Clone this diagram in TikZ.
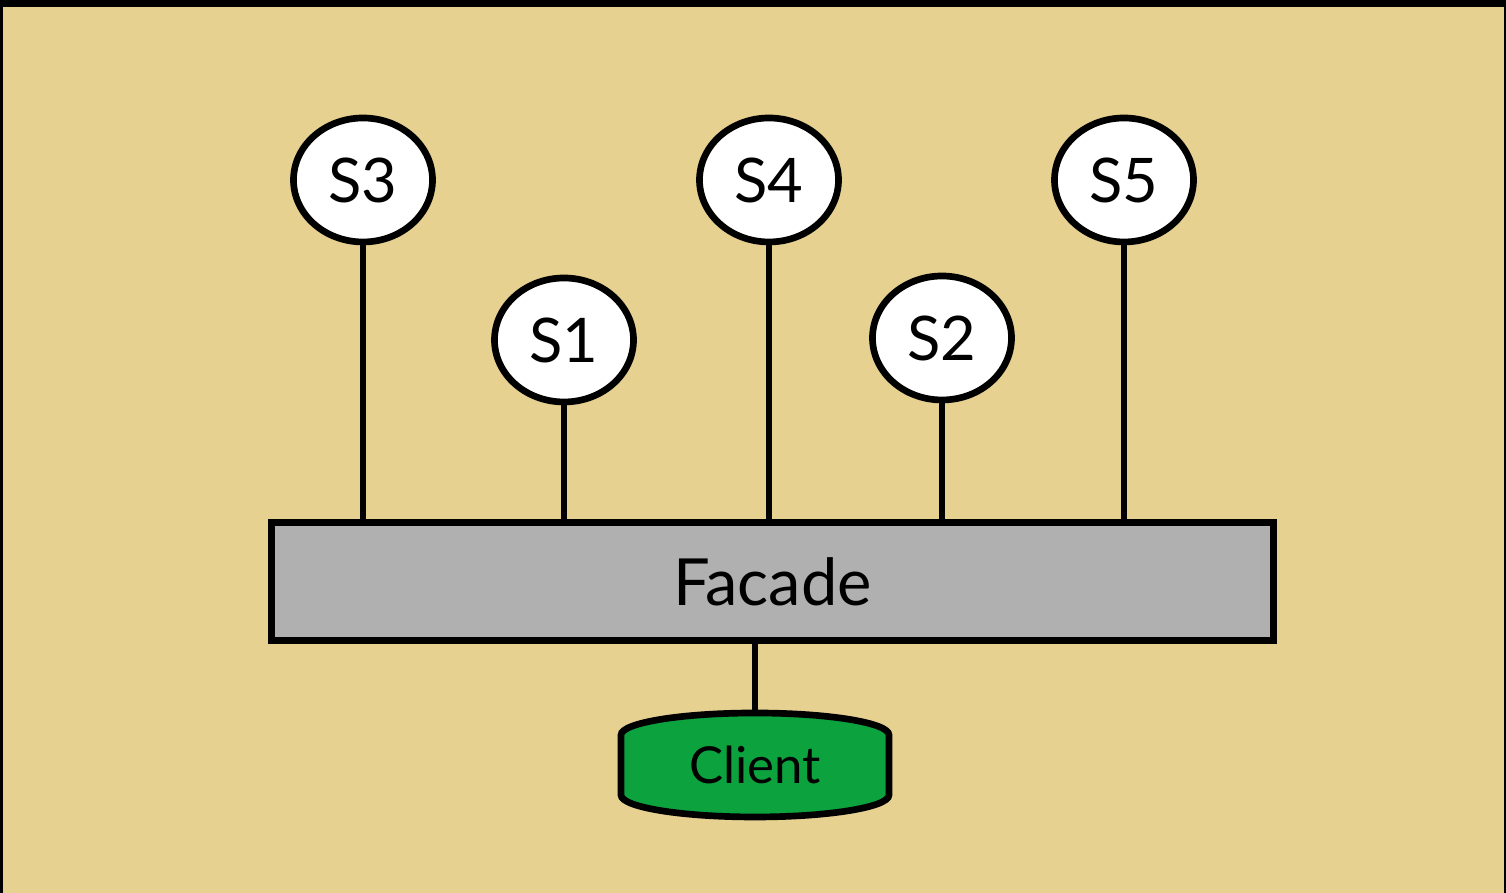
\documentclass[tikz,border=0pt]{standalone}
\usepackage{fontspec}
\setmainfont{Lato}
\usepackage{xcolor}
\usetikzlibrary{positioning,calc,shapes.geometric}
\definecolor{backtan}{RGB}{230,209,144}
\definecolor{facadegray}{RGB}{176,176,176}
\definecolor{clientgreen}{RGB}{12,162,62}

\begin{document}
\begin{tikzpicture}[line width=1.9pt,
    subsys/.style={ellipse, draw, fill=white, minimum width=1.39cm, minimum height=1.24cm,
      inner sep=0pt, font=\fontsize{17.5}{20}\selectfont},
    facadebox/.style={rectangle, draw, fill=facadegray, minimum width=10.02cm, minimum height=1.18cm,
      font=\fontsize{18.5}{22}\selectfont},
    clientbox/.style={rectangle, minimum width=2.68cm, minimum height=1.04cm, inner sep=0pt,
      outer sep=0pt, font=\fontsize{14.5}{17}\selectfont}]
  % screen background
  \fill[backtan] (0,0) rectangle (15.06,8.93);
  \fill[black] (0,8.86) rectangle (15.06,8.93);
  \fill[black] (0,0) rectangle (0.03,8.93);
  \fill[black] (15.04,0) rectangle (15.06,8.93);
  \useasboundingbox (0,0) rectangle (15.06,8.93);

  \node[facadebox] (facade) at (7.725,3.115) {Facade};

  % subsystems hanging on the facade
  \foreach \name/\x/\y in {3/3.63/7.13, 1/5.64/5.53, 4/7.69/7.13, 2/9.42/5.55, 5/11.24/7.13}{
    \node[subsys] (sub\name) at (\x,\y) {S\name};
    \draw (sub\name.south) -- (sub\name.south |- facade.north);
  }

  % client below
  \node[clientbox] (client) at (7.55,1.28) {};
  \draw[fill=clientgreen] ($(client.west)+(0,0.3)$) arc[start angle=180, end angle=0, x radius=1.34, y radius=0.22]
    -- ($(client.east)+(0,-0.3)$) arc[start angle=0, end angle=-180, x radius=1.34, y radius=0.22] -- cycle;
  \node[clientbox] at (client) {Client};
  \draw (facade.south -| client.north) -- (client.north);
\end{tikzpicture}
\end{document}
